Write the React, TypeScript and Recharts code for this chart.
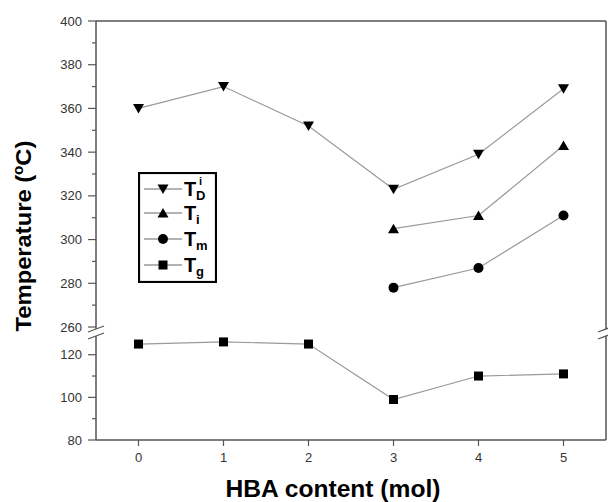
import { Legend, Line, LineChart, XAxis, YAxis } from "recharts";

const hba = [0, 1, 2, 3, 4, 5];
const tdi = [360, 370, 352, 323, 339, 369];
const ti = [null, null, null, 305, 311, 343];
const tm = [null, null, null, 278, 287, 311];
const tg = [125, 126, 125, 99, 110, 111];

const xTicks = [0, 1, 2, 3, 4, 5];
const upperTicks = [260, 270, 280, 290, 300, 310, 320, 330, 340, 350, 360, 370, 380, 390, 400];
const lowerTicks = [80, 90, 100, 110, 120];

const rows = hba.map((x, i) => ({ x, tdi: tdi[i], ti: ti[i], tm: tm[i], tg: tg[i] }));

const FRAME = "#555";
const LINE = "#9a9a9a";
const FONT = "Liberation Sans, Arial, sans-serif";

type Shape = "down" | "up" | "circle" | "square";

function Marker({ shape, cx, cy }: { shape: Shape; cx: number; cy: number }) {
  if (shape === "circle") return <circle cx={cx} cy={cy} r={5} fill="#000" />;
  if (shape === "square") return <rect x={cx - 4.5} y={cy - 4.5} width={9} height={9} fill="#000" />;
  const pts =
    shape === "down"
      ? `${cx - 5.5},${cy - 4.5} ${cx + 5.5},${cy - 4.5} ${cx},${cy + 5}`
      : `${cx - 5.5},${cy + 4.5} ${cx + 5.5},${cy + 4.5} ${cx},${cy - 5}`;
  return <polygon points={pts} fill="#000" />;
}

const dot = (shape: Shape) => (p: any) => {
  if (p.cx == null || p.cy == null || p.value == null) return <g key={p.key ?? p.index} />;
  return (
    <g key={p.key ?? p.index}>
      <Marker shape={shape} cx={p.cx} cy={p.cy} />
    </g>
  );
};

const YTick = (p: any) => {
  const ax = p.x + 14;
  const major = p.payload.value % 20 === 0;
  return (
    <g>
      <line x1={ax - (major ? 8 : 4)} x2={ax} y1={p.y} y2={p.y} stroke={FRAME} strokeWidth={1.2} />
      {major && (
        <text x={ax - 14} y={p.y} dy="0.35em" textAnchor="end" fontSize={13} fontFamily={FONT} fill="#333">
          {p.payload.value}
        </text>
      )}
    </g>
  );
};

const legendRows: { shape: Shape; sub: string; sup?: string }[] = [
  { shape: "down", sub: "D", sup: "i" },
  { shape: "up", sub: "i" },
  { shape: "circle", sub: "m" },
  { shape: "square", sub: "g" },
];

const LegendBox = () => (
  <svg width={79} height={111}>
    <rect x={1} y={1} width={77} height={109} fill="#fff" stroke="#000" strokeWidth={2.2} />
    {legendRows.map((r, i) => {
      const y = [17, 41, 67, 93][i];
      return (
        <g key={r.sub + i}>
          <line x1={6} x2={44} y1={y} y2={y} stroke={LINE} strokeWidth={1.5} />
          <Marker shape={r.shape} cx={25} cy={y} />
          <text x={46} y={y + 7} fontSize={20} fontWeight="bold" fontFamily={FONT} fill="#000">
            T
          </text>
          <text x={58} y={y + 11} fontSize={13} fontWeight="bold" fontFamily={FONT} fill="#000">
            {r.sub}
          </text>
          {r.sup && (
            <text x={61} y={y - 4} fontSize={11} fontWeight="bold" fontFamily={FONT} fill="#000">
              {r.sup}
            </text>
          )}
        </g>
      );
    })}
  </svg>
);

function BreakMark({ x }: { x: number }) {
  return (
    <g>
      <rect x={x - 3} y={329} width={6} height={7} fill="#fff" />
      <line x1={x - 8} y1={332} x2={x + 8} y2={326} stroke={FRAME} strokeWidth={1.3} />
      <line x1={x - 8} y1={339} x2={x + 8} y2={333} stroke={FRAME} strokeWidth={1.3} />
    </g>
  );
}

export default function App() {
  return (
    <div style={{ position: "relative", width: 608, height: 502, background: "#fff", overflow: "hidden" }}>
      <style>{"body{margin:0}"}</style>
      <div style={{ position: "absolute", left: 0, top: 0 }}>
        <LineChart width={608} height={345} data={rows} margin={{ top: 20, right: 1, bottom: 18, left: 46 }}>
          <XAxis
            dataKey="x"
            type="number"
            domain={[-0.5, 5.5]}
            orientation="top"
            height={1}
            tick={false}
            tickLine={false}
            axisLine={{ stroke: FRAME, strokeWidth: 1.5 }}
          />
          <YAxis
            domain={[260, 400]}
            ticks={upperTicks}
            interval={0}
            width={50}
            tickSize={8}
            tickMargin={6}
            tickLine={false}
            tick={<YTick />}
            axisLine={{ stroke: FRAME, strokeWidth: 1.5 }}
            allowDataOverflow
          />
          <YAxis
            yAxisId="r"
            orientation="right"
            domain={[260, 400]}
            width={1}
            tick={false}
            tickLine={false}
            axisLine={{ stroke: FRAME, strokeWidth: 1.5 }}
          />
          <Legend
            layout="vertical"
            align="center"
            verticalAlign="middle"
            content={() => <LegendBox />}
            wrapperStyle={{ left: 138, top: 172, width: 79, height: 111 }}
          />
          <Line dataKey="tdi" stroke={LINE} strokeWidth={1.2} dot={dot("down")} isAnimationActive={false} />
          <Line dataKey="ti" stroke={LINE} strokeWidth={1.2} dot={dot("up")} isAnimationActive={false} />
          <Line dataKey="tm" stroke={LINE} strokeWidth={1.2} dot={dot("circle")} isAnimationActive={false} />
        </LineChart>
      </div>
      <div style={{ position: "absolute", left: 0, top: 327 }}>
        <LineChart width={608} height={175} data={rows} margin={{ top: 0, right: 1, bottom: 0, left: 46 }}>
          <XAxis
            dataKey="x"
            type="number"
            domain={[-0.5, 5.5]}
            ticks={xTicks}
            interval={0}
            height={62}
            tickSize={6}
            tickMargin={7}
            tick={{ fontSize: 13, fill: "#333", fontFamily: FONT }}
            tickLine={{ stroke: FRAME, strokeWidth: 1.2 }}
            axisLine={{ stroke: FRAME, strokeWidth: 1.5 }}
          />
          <YAxis
            domain={[80, 133]}
            ticks={lowerTicks}
            interval={0}
            width={50}
            tickSize={8}
            tickMargin={6}
            tickLine={false}
            tick={<YTick />}
            axisLine={{ stroke: FRAME, strokeWidth: 1.5 }}
            allowDataOverflow
          />
          <YAxis
            yAxisId="r"
            orientation="right"
            domain={[80, 133]}
            width={1}
            tick={false}
            tickLine={false}
            axisLine={{ stroke: FRAME, strokeWidth: 1.5 }}
          />
          <Line dataKey="tg" stroke={LINE} strokeWidth={1.2} dot={dot("square")} isAnimationActive={false} />
        </LineChart>
      </div>
      <svg
        width={608}
        height={502}
        style={{ position: "absolute", left: 0, top: 0, pointerEvents: "none" }}
      >
        <BreakMark x={96} />
        <BreakMark x={606} />
        <text
          transform="translate(31,236) rotate(-90) scale(1.08,1)"
          textAnchor="middle"
          fontSize={22}
          fontWeight="bold"
          fontFamily={FONT}
          fill="#000"
        >
          Temperature (<tspan fontSize={14} dy={-8}>o</tspan>
          <tspan dy={8}>C)</tspan>
        </text>
        <text
          transform="translate(333,497) scale(1.07,1)"
          textAnchor="middle"
          fontSize={23}
          fontWeight="bold"
          fontFamily={FONT}
          fill="#000"
        >
          HBA content (mol)
        </text>
      </svg>
    </div>
  );
}
